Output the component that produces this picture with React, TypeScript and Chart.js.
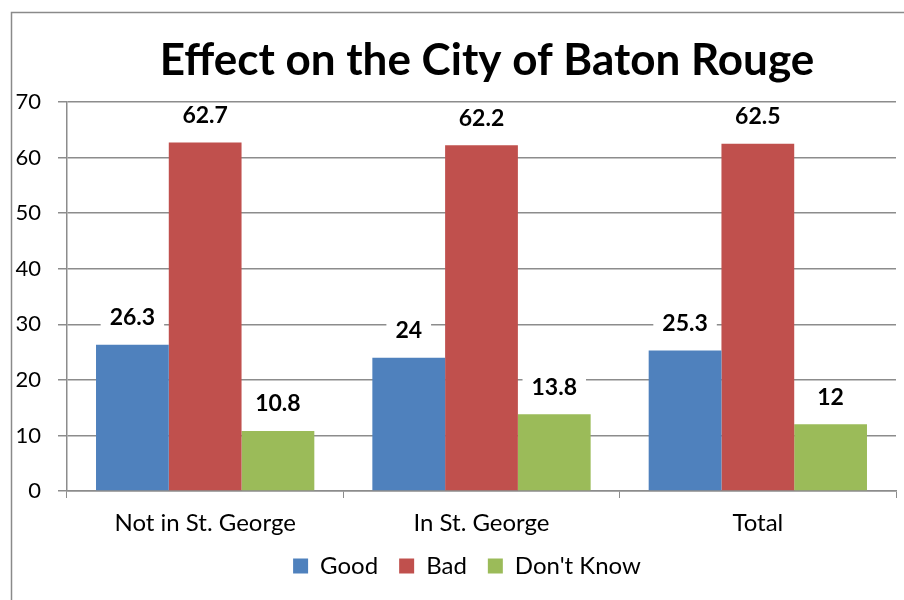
import React, { useEffect, useRef } from "react";
import { Chart, registerables } from "chart.js";

Chart.register(...registerables);

const titleText = "Effect on the City of Baton Rouge";
const categories = ["Not in St. George", "In St. George", "Total"];
const seriesNames = ["Good", "Bad", "Don't Know"];
const goodValues = [26.3, 24, 25.3];
const badValues = [62.7, 62.2, 62.5];
const dontKnowValues = [10.8, 13.8, 12];
const seriesColors = ["#4F81BD", "#C0504D", "#9BBB59"];
const yMin = 0;
const yMax = 70;
const yStep = 10;

const FONT = "Lato, 'Open Sans', sans-serif";
const GRID = "#8c8c8c";

const framePlugin = {
  id: "frame",
  beforeDraw(chart: any) {
    const ctx = chart.ctx;
    ctx.save();
    ctx.fillStyle = "#ffffff";
    ctx.fillRect(0, 0, chart.width, chart.height);
    ctx.strokeStyle = "#8a8a8a";
    ctx.lineWidth = 1.5;
    ctx.strokeRect(11.5, 12.5, 2000, 2000);
    ctx.restore();
  },
};

const shiftPlugin = {
  id: "shiftBoxes",
  afterLayout(chart: any) {
    const t = chart.titleBlock;
    if (t) {
      const d = 487 - (t.left + t.right) / 2;
      t.left += d;
      t.right += d;
    }
    const l = chart.legend;
    if (l) {
      const d = 467 - (l.left + l.right) / 2;
      l.left += d;
      l.right += d;
      l.top -= 8;
      l.bottom -= 8;
    }
  },
};

const valueLabelPlugin = {
  id: "valueLabels",
  afterDatasetsDraw(chart: any) {
    const ctx = chart.ctx;
    ctx.save();
    ctx.font = `bold 23px ${FONT}`;
    ctx.textAlign = "center";
    ctx.textBaseline = "middle";
    chart.data.datasets.forEach((ds: any, i: number) => {
      const meta = chart.getDatasetMeta(i);
      meta.data.forEach((bar: any, j: number) => {
        const text = String(ds.data[j]);
        const w = ctx.measureText(text).width;
        const cx = bar.x;
        const cy = bar.y - 27;
        ctx.fillStyle = "#ffffff";
        ctx.fillRect(cx - w / 2 - 9, cy - 12, w + 18, 24);
        ctx.fillStyle = "#000000";
        ctx.fillText(text, cx, cy);
      });
    });
    ctx.restore();
  },
};

export default function App() {
  const ref = useRef<HTMLCanvasElement | null>(null);

  useEffect(() => {
    if (!ref.current) return;
    Chart.defaults.font.family = FONT;
    const chart = new Chart(ref.current, {
      type: "bar",
      data: {
        labels: categories,
        datasets: [
          { label: seriesNames[0], data: goodValues, backgroundColor: seriesColors[0] },
          { label: seriesNames[1], data: badValues, backgroundColor: seriesColors[1] },
          { label: seriesNames[2], data: dontKnowValues, backgroundColor: seriesColors[2] },
        ],
      },
      options: {
        responsive: false,
        animation: false,
        layout: { padding: { left: 0, right: 8, top: 0, bottom: 4 } },
        datasets: {
          bar: { categoryPercentage: 0.79, barPercentage: 1 },
        },
        scales: {
          x: {
            afterFit(scale: any) {
              scale.height = 50;
            },
            grid: {
              drawOnChartArea: false,
              drawTicks: true,
              tickLength: 7,
              color: GRID,
              offset: true,
            },
            border: { display: true, color: GRID, width: 1.5 },
            ticks: { color: "#000", font: { size: 24 }, padding: 11 },
          },
          y: {
            min: yMin,
            max: yMax,
            afterFit(scale: any) {
              scale.width = 67;
            },
            ticks: { stepSize: yStep, color: "#000", font: { size: 22 }, padding: 17 },
            grid: { color: GRID, lineWidth: 1.5, tickLength: 9 },
            border: { display: true, color: GRID, width: 1.5 },
          },
        },
        plugins: {
          title: {
            display: true,
            text: titleText,
            color: "#000",
            font: { size: 44, weight: "bold" },
            padding: { top: 34.6, bottom: 14.6 },
          },
          legend: {
            position: "bottom",
            labels: {
              boxWidth: 15,
              boxHeight: 15,
              padding: 21,
              color: "#000",
              font: { size: 24 },
            },
          },
          tooltip: { enabled: false },
        },
      },
      plugins: [framePlugin, shiftPlugin, valueLabelPlugin],
    } as any);
    return () => chart.destroy();
  }, []);

  return (
    <div style={{ position: "absolute", left: 0, top: 0, width: 904, height: 600 }}>
      <canvas ref={ref} width={904} height={600} />
    </div>
  );
}
